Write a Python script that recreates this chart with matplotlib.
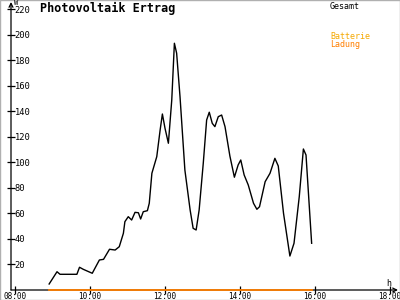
import matplotlib.pyplot as plt
from matplotlib.patches import Rectangle

# time of day in hours, PV output in W
hours = [8.91, 9.12, 9.20, 9.65, 9.72, 9.82, 10.06, 10.25, 10.36, 10.52,
         10.67, 10.78, 10.89, 10.93, 11.02, 11.11, 11.20, 11.29, 11.35, 11.42,
         11.53, 11.58, 11.65, 11.78, 11.87, 11.93, 12.00, 12.09, 12.18, 12.25,
         12.31, 12.40, 12.53, 12.67, 12.75, 12.83, 12.91, 13.02, 13.11, 13.18,
         13.26, 13.33, 13.42, 13.51, 13.60, 13.73, 13.85, 13.95, 14.02, 14.11,
         14.22, 14.36, 14.45, 14.52, 14.67, 14.80, 14.93, 15.02, 15.16, 15.33,
         15.44, 15.58, 15.69, 15.76, 15.91]
gesamt = [4.7, 14.3, 12.3, 12.3, 17.8, 16.2, 13.1, 23.5, 24.0, 31.9,
          31.3, 33.9, 44.4, 53.5, 57.4, 54.8, 60.8, 60.5, 55.6, 61.3,
          62.1, 67.9, 91.4, 104.4, 125.3, 137.8, 126.6, 114.9, 148.8, 193.2,
          185.4, 151.4, 93.9, 62.6, 48.3, 47.0, 62.6, 99.2, 133.1, 139.2,
          130.5, 127.9, 135.7, 137.0, 127.9, 104.9, 88.3, 97.9, 101.8, 90.1,
          82.2, 67.9, 63.2, 65.2, 84.8, 91.4, 103.1, 97.1, 60.1, 26.6,
          36.6, 73.1, 110.4, 105.7, 36.6]
ladung_hours = [8.91, 15.91]
ladung = [0, 0]

x_ticks = [8, 10, 12, 14, 16, 18]
x_labels = ["08:00", "10:00", "12:00", "14:00", "16:00", "18:00"]
y_ticks = list(range(20, 221, 20))

mono = "DejaVu Sans Mono"

fig = plt.figure(figsize=(4, 3), dpi=100)
ax = fig.add_axes([11 / 400, 10 / 300, 387 / 400, 288 / 300])
ax.set_xlim(7.893, 18.213)
ax.set_ylim(0, 225.5)
ax.patch.set_visible(False)
for s in ax.spines.values():
    s.set_visible(False)

ax.plot(hours, gesamt, color="black", lw=1)
ax.plot(ladung_hours, ladung, color="#ff8000", lw=1.3, clip_on=False, zorder=5)

# axes with arrows
ax.annotate("", xy=(1, 0), xytext=(0, 0), xycoords="axes fraction",
            arrowprops=dict(arrowstyle="->", lw=0.9, color="black",
                            shrinkA=0, shrinkB=0, mutation_scale=7))
ax.annotate("", xy=(0, 1), xytext=(0, 0), xycoords="axes fraction",
            arrowprops=dict(arrowstyle="->", lw=0.9, color="black",
                            shrinkA=0, shrinkB=0, mutation_scale=7))

ax.set_xticks(x_ticks)
ax.set_xticklabels(x_labels, fontsize=5.5, family=mono)
ax.set_yticks(y_ticks)
ax.set_yticklabels([str(v) for v in y_ticks], fontsize=6.3, family=mono)
ax.tick_params(axis="both", direction="inout", length=6, width=0.9)
ax.tick_params(axis="x", pad=-1.5)
ax.tick_params(axis="y", pad=-5.5)
for lab in ax.get_yticklabels():
    lab.set_horizontalalignment("left")

fig.text(40 / 400, 1 - 12 / 300, "Photovoltaik Ertrag", fontsize=8.5,
         family=mono, weight="bold", va="baseline")
fig.text(14 / 400, 1 - 0 / 300, "W", fontsize=5, family=mono, va="top")
fig.text(386 / 400, 1 - 279 / 300, "h", fontsize=6, family=mono, va="top")
fig.text(330 / 400, 1 - 2 / 300, "Gesamt", fontsize=6, family=mono, va="top")
fig.text(330 / 400, 1 - 32 / 300, "Batterie", fontsize=6, family=mono,
         va="top", color="#f5a800")
fig.text(330 / 400, 1 - 40 / 300, "Ladung", fontsize=6, family=mono,
         va="top", color="#ff7f00")

fig.patches.append(Rectangle((0, 0), 1, 1, transform=fig.transFigure,
                             fill=False, edgecolor="#b0b0b0", lw=1))

fig.savefig("out.png", dpi=100)
